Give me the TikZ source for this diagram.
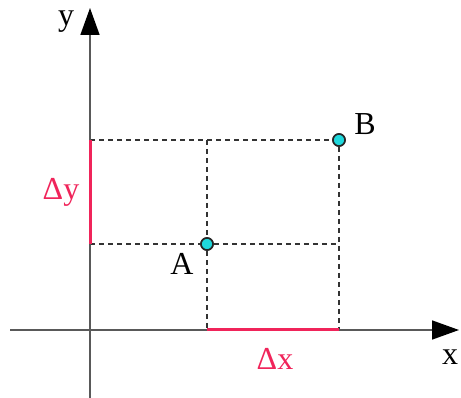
\documentclass[tikz,border=0pt]{standalone}
\usepackage{fontspec}
\setmainfont{Liberation Serif}
\usetikzlibrary{arrows.meta}
\definecolor{deltared}{HTML}{F0245A}
\definecolor{dotcyan}{HTML}{1FD8DC}
\tikzset{
  axisline/.style={draw=black!65,line width=1.6pt,-{Triangle[length=27pt,width=19pt,color=black]}},
  guideline/.style={draw=black!80,line width=1.1pt,dash pattern=on 5pt off 4pt},
  deltaline/.style={draw=deltared,line width=3pt},
  ptdot/.style={circle,draw=black!85,fill=dotcyan,line width=1.6pt,inner sep=0pt,minimum size=12pt},
  lbl/.style={font=\fontsize{32}{36}\selectfont,inner sep=0pt}
}
\begin{document}
\begin{tikzpicture}[x=1pt,y=-1pt]
\useasboundingbox (0,0) rectangle (461,398);
% axes
\coordinate (yb) at (90,398);
\coordinate (yt) at (90,8);
\coordinate (xl) at (10,330);
\coordinate (xr) at (459,330);
% points
\node[ptdot] (A) at (207,244) {};
\node[ptdot] (B) at (339,140) {};
\coordinate (ay) at (A -| yb);
\coordinate (by) at (B -| yb);
\coordinate (ax) at (A |- xl);
\coordinate (bx) at (B |- xl);
\draw[guideline] (by) -- (B);
\draw[guideline] (ay) -- (A) -- (A -| B);
\draw[guideline] (A |- B) -- (A) -- (ax);
\draw[guideline] (B) -- (bx);
\draw[axisline] (yb) -- (yt);
\draw[axisline] (xl) -- (xr);
\draw[deltaline] (ay) -- (by);
\draw[deltaline] (ax) -- (bx);
\node[ptdot] at (A) {};
\node[ptdot] at (B) {};
% labels
\node[lbl] (ylbl) at (66,22) {y};
\node[lbl] (xlbl) at (450,357) {x};
\node[lbl] (albl) at (182,264) {A};
\node[lbl] (blbl) at (365,124) {B};
\node[lbl,text=deltared] (dy) at (61,192) {Δy};
\node[lbl,text=deltared] (dx) at (275,359) {Δx};
\end{tikzpicture}
\end{document}
